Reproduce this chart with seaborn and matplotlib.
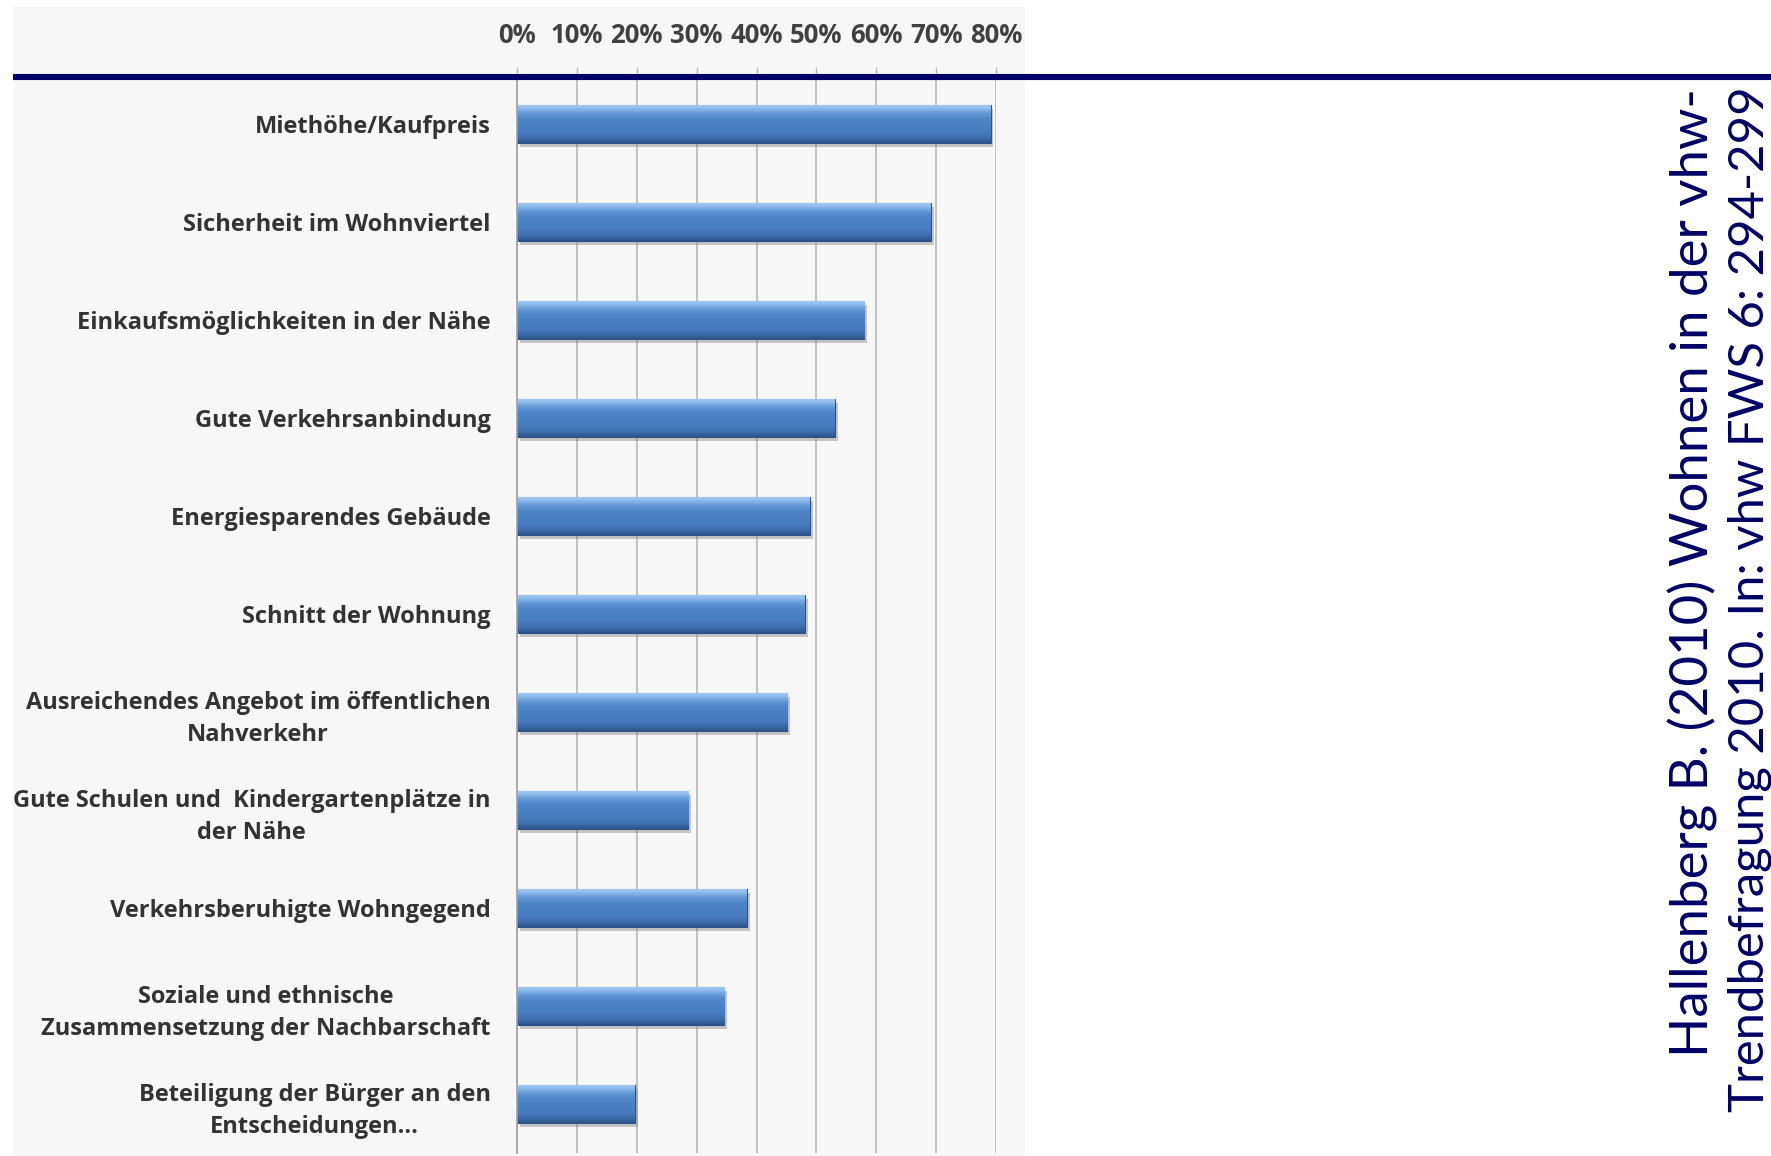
import numpy as np
import pandas as pd
import matplotlib
matplotlib.use("Agg")
import matplotlib.pyplot as plt
import matplotlib.patheffects as pe
from matplotlib.patches import Rectangle
from matplotlib.lines import Line2D
from matplotlib.colors import LinearSegmentedColormap
import seaborn as sns

# ---------------- data ----------------
categories = [
    "Miethöhe/Kaufpreis",
    "Sicherheit im Wohnviertel",
    "Einkaufsmöglichkeiten in der Nähe",
    "Gute Verkehrsanbindung",
    "Energiesparendes Gebäude",
    "Schnitt der Wohnung",
    "Ausreichendes Angebot im öffentlichen\nNahverkehr",
    "Gute Schulen und  Kindergartenplätze in\nder Nähe",
    "Verkehrsberuhigte Wohngegend",
    "Soziale und ethnische\nZusammensetzung der Nachbarschaft",
    "Beteiligung der Bürger an den\nEntscheidungen...",
]
values = [0.791, 0.691, 0.580, 0.531, 0.489, 0.481, 0.451, 0.286, 0.384, 0.346, 0.197]
xticks = [0.0, 0.1, 0.2, 0.3, 0.4, 0.5, 0.6, 0.7, 0.8]
xtick_labels = ["0%", "10%", "20%", "30%", "40%", "50%", "60%", "70%", "80%"]
citation_lines = [
    "Hallenberg B. (2010) Wohnen in der vhw-",
    "Trendbefragung 2010. In: vhw FWS 6: 294-299",
]

df = pd.DataFrame({"Merkmal": categories, "Anteil": values})

# ---------------- figure ----------------
W, H = 1771, 1156
DPI = 100
sns.set_style("white")
plt.rcParams["font.family"] = ["Open Sans", "DejaVu Sans"]

fig = plt.figure(figsize=(W / DPI, H / DPI), dpi=DPI)
fig.patch.set_facecolor("white")

def px2fig(x, y):
    return x / W, 1 - y / H

# light grey panel behind the chart
x0f, y1f = px2fig(13, 7)
x1f, y0f = px2fig(1025, H)
fig.add_artist(Rectangle((x0f, y0f), x1f - x0f, y1f - y0f, transform=fig.transFigure,
                         facecolor="#f7f7f7", edgecolor="none", zorder=0))

# axes
left, top = px2fig(517, 75)
right, bottom = px2fig(996, 1153)
ax = fig.add_axes([left, bottom, right - left, top - bottom])
ax.set_facecolor("none")
ax.set_zorder(1)

sns.barplot(data=df, x="Anteil", y="Merkmal", orient="h", width=0.39,
            color="#4a7fc4", saturation=1, edgecolor="#2c5288", linewidth=0.8, ax=ax)

ax.set_xlim(0, 0.8)
ax.set_ylim(len(categories) - 0.5, -0.5)

# gradient fill & shadow for each bar
grad_cmap = LinearSegmentedColormap.from_list("bar", [
    (0.00, "#a8ccf2"),
    (0.10, "#8fbcec"),
    (0.24, "#6197d6"),
    (0.38, "#4e84c8"),
    (0.72, "#477bbf"),
    (0.88, "#3d6cab"),
    (1.00, "#2d548a"),
])
grad = np.linspace(0, 1, 64).reshape(-1, 1)
for p in ax.patches:
    p.set_path_effects([pe.SimplePatchShadow(offset=(2, -3), shadow_rgbFace="#888888", alpha=0.45),
                        pe.Normal()])
    bx, by, bw, bh = p.get_x(), p.get_y(), p.get_width(), p.get_height()
    im = ax.imshow(grad, cmap=grad_cmap, aspect="auto", origin="upper",
                   extent=(bx, bx + bw, by + bh, by), zorder=p.get_zorder() + 0.1,
                   interpolation="bilinear")
    im.set_clip_path(p)
ax.set_xlim(0, 0.8)
ax.set_ylim(len(categories) - 0.5, -0.5)

# grid and spines
ax.set_axisbelow(True)
ax.xaxis.grid(True, color="#b8b8b8", linewidth=1.2)
ax.yaxis.grid(False)
for s in ["top", "right", "bottom"]:
    ax.spines[s].set_visible(False)
ax.spines["left"].set_color("#a0a0a0")
ax.spines["left"].set_linewidth(1.2)

# x ticks on top
ax.xaxis.tick_top()
ax.set_xticks(xticks)
ax.set_xticklabels(xtick_labels, fontsize=18.5, fontweight="bold", color="#404040")
ax.tick_params(axis="x", which="major", top=True, length=6, width=1, color="#b8b8b8", pad=13)
ax.set_xlabel("")

# y ticks: labels at categories, small marks at boundaries
ax.set_yticks(range(len(categories)))
ax.set_yticklabels(categories, fontsize=17.0, fontweight="bold", color="#333333")
ax.tick_params(axis="y", which="major", length=0, pad=19)
ax.set_yticks(np.arange(-0.5, len(categories), 1.0), minor=True)
ax.tick_params(axis="y", which="minor", length=6, width=1, color="#a0a0a0", direction="out")
for lbl in ax.get_yticklabels():
    lbl.set_multialignment("center")
    lbl.set_linespacing(1.45)
ax.set_ylabel("")

# navy rule
lx0, ly = px2fig(13, 77)
fig.add_artist(Line2D([lx0, 1.0], [ly, ly], transform=fig.transFigure,
                      color="#000066", linewidth=4.4, solid_capstyle="butt", zorder=5))

# citation, rotated: each line starts at the bottom and ends just below the rule
cit_font = ["Lato", "DejaVu Sans"]
anchors = [(1709, 1057), (1764, 1112)]
target_len = [968, 1027]
texts = []
for line, (axp, ayp) in zip(citation_lines, anchors):
    tx, ty = px2fig(axp, ayp)
    t = fig.text(tx, ty, line, rotation=90, rotation_mode="anchor", ha="left", va="baseline",
                 fontsize=33, color="#000066", family=cit_font, zorder=6)
    texts.append(t)
fig.canvas.draw()
r = fig.canvas.get_renderer()
for t, L in zip(texts, target_len):
    ext = t.get_window_extent(r)
    t.set_fontsize(33 * L / ext.height)

fig.savefig("out.png", dpi=DPI, facecolor="white")
